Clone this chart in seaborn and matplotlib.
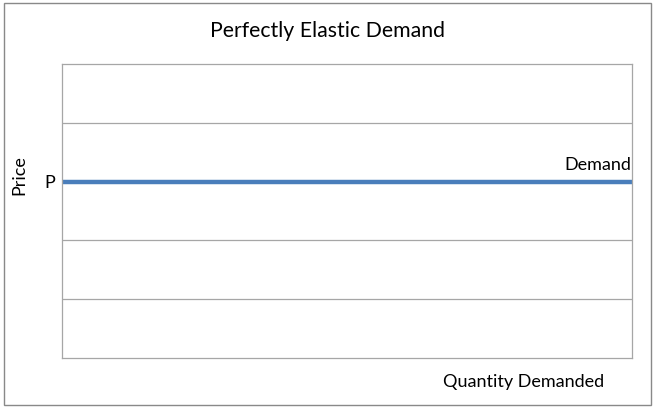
import matplotlib
matplotlib.use("Agg")
import matplotlib.pyplot as plt
import seaborn as sns
import pandas as pd
from matplotlib.patches import Rectangle

quantity = [0, 10]
price = [3, 3]
series_name = "Demand"
price_tick_values = [3]
price_tick_labels = ["P"]
gridline_values = [1, 2, 3, 4]

sns.set_style("white")
plt.rcParams['font.family'] = ['Lato', 'DejaVu Sans']
plt.rcParams['text.color'] = 'black'

W, H = 655, 409
fig = plt.figure(figsize=(W / 100, H / 100), dpi=100)
ax = fig.add_axes([62 / W, 1 - 358 / H, (632 - 62) / W, (358 - 64) / H])

df = pd.DataFrame({"Quantity": quantity, "Price": price})
sns.lineplot(data=df, x="Quantity", y="Price", ax=ax, color="#4A7EBB", linewidth=3.2)

ax.set_xlim(0, 10)
ax.set_ylim(0, 5)
for g in gridline_values:
    ax.axhline(g, color="#A6A6A6", linewidth=0.9, zorder=0)
ax.set_xticks([])
ax.set_yticks(price_tick_values)
ax.set_yticklabels(price_tick_labels, fontsize=13, color="black")
ax.tick_params(axis="y", length=0, pad=5)
for s in ax.spines.values():
    s.set_color("#A6A6A6")
    s.set_linewidth(0.9)
ax.set_xlabel("")
ax.set_ylabel("")

ax.text(9.98, 3.14, series_name, ha="right", va="bottom", fontsize=13, color="black")

fig.text(327 / W, 1 - 31 / H, "Perfectly Elastic Demand", ha="center", va="center", fontsize=15.3, color="black")
fig.text(19 / W, 1 - 175 / H, "Price", ha="center", va="center", rotation=90, fontsize=13, color="black")
fig.text(524 / W, 1 - 382 / H, "Quantity Demanded", ha="center", va="center", fontsize=13, color="black")

fig.patches.append(Rectangle((4 / W, 1 - 405 / H), (651 - 4) / W, (405 - 3) / H,
                             transform=fig.transFigure, fill=False,
                             edgecolor="#898989", linewidth=1.0))

fig.savefig("out.png", dpi=100)
